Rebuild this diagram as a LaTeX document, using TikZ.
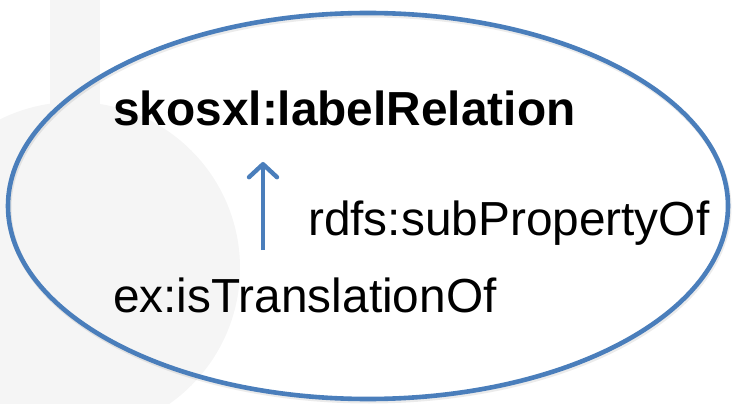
\documentclass[tikz,border=0pt]{standalone}
\usepackage{fontspec}
\setmainfont{Liberation Sans}
\usetikzlibrary{arrows.meta}
\definecolor{ringblue}{RGB}{74,126,187}
\definecolor{backgray}{RGB}{245,245,245}
\tikzset{
  ring/.style={draw=ringblue, line width=4.6pt},
  ringshadow/.style={draw=black, opacity=0.08, line width=5pt},
  termlabel/.style={anchor=base west, inner sep=0pt, text=black,
    font=\fontsize{47.8}{56}\selectfont},
  subarrow/.style={draw=ringblue, line width=4.4pt,
    -{Straight Barb[length=13pt, width=28pt, line cap=round, line join=round]}}
}
\begin{document}
\begin{tikzpicture}[x=1pt, y=-1pt]
  \useasboundingbox (0,0) rectangle (732,404);
  % faint background shapes
  \fill[backgray] (50,0) rectangle (100,130);
  \fill[backgray] (74,268) circle [radius=166];
  % the class ellipse with a soft shadow
  \draw[ringshadow] (369,208) ellipse [x radius=360, y radius=193];
  \draw[ring] (368,206) ellipse [x radius=360, y radius=193];
  % labels
  \node[termlabel, font=\bfseries\fontsize{47.8}{56}\selectfont] (super) at (113,126) {skosxl:labelRelation};
  \node[termlabel] (relname) at (308,235) {rdfs:subPropertyOf};
  \node[termlabel] (sub) at (113,312) {ex:isTranslationOf};
  % subproperty arrow
  \coordinate (foot) at (263,250);
  \coordinate (head) at (263,162);
  \draw[subarrow] (foot) -- (head);
\end{tikzpicture}
\end{document}
